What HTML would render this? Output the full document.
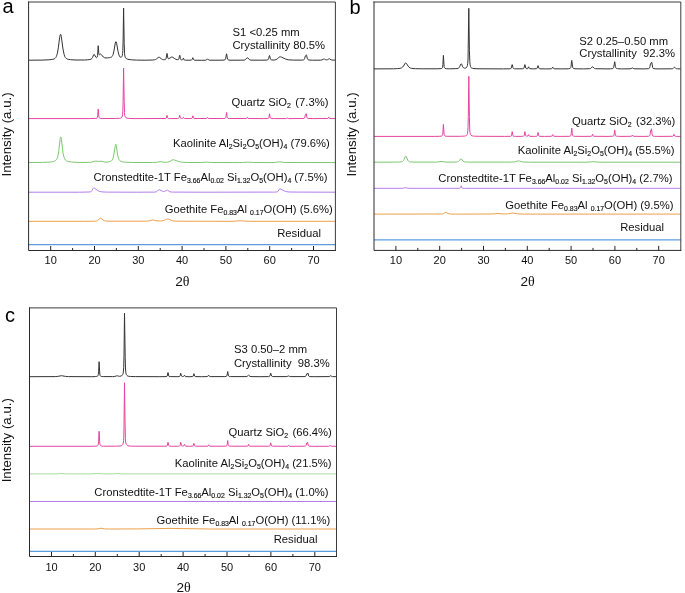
<!DOCTYPE html>
<html><head><meta charset="utf-8"><style>
html,body{margin:0;padding:0;background:#fff;}
svg{display:block;will-change:transform;}
text{font-family:"Liberation Sans",sans-serif;fill:#111;}
.lb{font-size:11.25px;}
.sb{font-size:6.9px;stroke:#111;stroke-width:0.15px;}
.tk{font-size:11px;}
.ax{font-size:13.6px;}
.th{font-family:"Liberation Serif",serif;font-size:14px;}
.yl{font-size:13.3px;}
.pl{font-size:20px;fill:#000;}
path{fill:none;stroke-width:1;stroke-linejoin:round;}
</style></head><body>
<svg width="685" height="593" viewBox="0 0 685 593">
<path d="M28.8,60.2 41.9,60.1 48.8,59.8 51.1,59.6 52.9,59.3 54.2,58.9 55.1,58.3 55.8,57.5 56.3,56.6 56.8,55.2 57.4,53.2 58.3,47.9 59.7,37.2 60.1,35.1 60.5,34.3 60.6,34.3 60.9,34.8 61.3,36.6 63.0,49.1 64.1,54.4 64.7,56.4 65.4,57.6 66.2,58.4 67.2,59.0 68.7,59.4 70.5,59.7 76.0,60.0 84.4,60.0 87.6,59.8 89.9,59.5 91.0,59.2 91.9,58.5 92.6,57.4 93.6,54.8 94.1,54.3 94.5,54.7 95.8,57.2 96.3,57.6 96.7,57.6 97.0,57.3 97.2,57.0 97.6,55.3 98.2,45.7 98.8,53.1 98.9,54.2 99.2,54.8 99.5,54.8 100.4,54.1 100.9,54.2 101.4,54.6 103.3,57.0 104.0,57.5 104.8,57.8 106.0,57.9 107.7,57.9 109.4,57.7 110.7,57.4 111.5,57.0 112.1,56.5 112.6,55.6 113.1,54.4 113.9,51.1 115.3,43.0 115.7,41.9 116.0,41.6 116.3,42.0 116.6,43.3 118.0,51.3 118.9,54.8 119.4,56.0 120.0,56.9 120.7,57.3 121.4,57.2 121.9,56.6 122.3,55.6 122.6,53.5 122.8,50.5 123.1,41.2 123.6,8.0 124.2,43.5 124.6,53.8 124.9,56.1 125.5,57.8 126.4,58.7 127.9,59.3 131.3,59.8 136.5,60.1 145.8,60.2 152.9,60.0 154.4,59.8 155.6,59.5 156.5,58.9 158.1,57.5 158.9,57.2 159.6,57.4 161.3,58.8 162.3,59.4 163.4,59.7 164.8,59.7 165.6,59.4 166.0,58.7 167.0,53.4 167.8,57.8 168.0,58.5 168.3,58.7 169.1,58.6 171.2,57.2 172.1,57.0 172.9,57.3 174.9,58.8 175.9,59.3 177.2,59.7 178.2,59.7 178.6,59.4 178.9,58.8 179.5,55.5 179.7,55.1 179.9,55.5 180.4,58.6 180.7,59.3 180.9,59.7 181.7,59.9 182.5,59.9 182.8,59.5 183.4,58.1 184.2,59.9 184.7,60.1 185.7,60.2 189.9,60.2 191.5,60.1 192.0,59.6 192.8,57.7 193.7,59.7 194.1,60.1 194.8,60.2 201.3,60.3 205.8,60.2 206.5,59.9 207.5,58.8 208.6,60.0 209.5,60.2 220.0,60.2 224.1,60.1 225.1,59.7 225.6,58.9 226.5,53.8 226.7,54.2 227.3,58.0 227.7,59.3 228.0,59.7 228.3,59.9 230.0,60.2 239.0,60.2 244.1,60.1 244.9,59.9 245.4,59.6 246.9,57.9 247.4,57.7 247.8,57.9 249.3,59.6 250.0,59.9 250.8,60.1 259.2,60.2 266.8,60.1 267.8,59.8 268.3,59.3 268.7,58.3 269.3,55.9 269.5,55.4 269.7,55.9 270.2,58.2 270.6,59.2 271.1,59.8 271.9,60.0 274.5,60.0 276.2,59.7 277.4,58.9 279.1,57.1 279.8,56.8 280.6,56.9 281.4,57.1 285.6,59.1 288.2,59.8 293.4,60.1 302.3,60.1 303.6,59.9 304.2,59.5 304.6,58.6 305.4,55.8 306.4,54.9 306.6,55.3 307.2,58.1 307.6,59.2 308.0,59.7 308.8,60.0 312.6,60.2 320.7,60.2 322.0,59.9 323.6,59.1 324.0,59.0 324.4,59.1 325.8,59.8 326.6,59.9 327.5,59.7 328.8,58.9 329.3,58.7 329.7,58.9 331.0,59.8 331.8,60.0 335.4,60.2" stroke="#333" />
<path d="M28.8,118.6 89.2,118.6 95.9,118.4 97.0,118.1 97.2,117.8 97.4,117.2 97.7,115.4 98.2,109.1 98.9,116.9 99.3,117.9 99.8,118.3 100.8,118.5 102.8,118.5 115.5,118.5 119.3,118.3 120.3,118.2 121.1,117.9 121.8,117.3 122.3,116.1 122.6,114.2 122.8,111.3 123.1,101.8 123.6,68.1 124.2,101.8 124.5,112.5 124.7,115.2 125.2,116.7 125.9,117.7 127.0,118.2 129.2,118.4 133.9,118.6 165.0,118.5 165.9,118.4 166.3,118.0 167.0,115.3 167.6,117.7 167.8,118.2 168.2,118.4 170.4,118.6 177.5,118.5 178.5,118.4 178.9,118.1 179.2,117.5 179.7,115.3 180.4,118.0 180.7,118.3 181.4,118.5 182.6,118.4 183.4,117.3 184.0,118.3 184.6,118.5 189.1,118.6 191.6,118.4 191.9,118.3 192.2,118.0 192.8,115.8 193.6,118.1 193.9,118.4 194.6,118.5 206.2,118.5 206.8,118.3 207.5,117.3 208.2,118.3 208.9,118.5 223.9,118.5 225.2,118.3 225.7,117.8 226.0,116.5 226.6,112.4 227.1,116.5 227.4,117.8 227.9,118.3 229.3,118.5 245.9,118.5 246.7,118.3 247.4,117.3 248.0,118.3 248.9,118.5 263.2,118.6 267.6,118.5 268.4,118.3 268.8,117.8 269.5,113.8 270.2,117.8 270.5,118.2 271.3,118.5 274.5,118.6 285.8,118.6 286.6,118.4 287.2,117.8 287.9,118.4 288.7,118.6 302.9,118.5 304.0,118.3 304.6,118.0 304.9,117.1 305.4,114.6 305.5,114.5 305.8,115.1 306.3,113.7 307.0,117.7 307.4,118.2 308.0,118.4 312.1,118.6 327.3,118.5 328.1,118.3 328.8,117.1 329.4,118.2 329.9,118.5 335.4,118.6" stroke="#e4449f" />
<path d="M28.8,162.5 42.4,162.4 49.2,162.1 51.6,161.9 53.3,161.6 54.6,161.1 55.6,160.5 56.4,159.7 57.0,158.8 57.5,157.4 58.0,155.4 58.8,150.7 60.2,138.7 60.5,137.4 60.8,136.9 61.0,137.3 61.4,139.6 63.1,153.3 63.8,156.5 64.5,158.5 65.4,160.0 66.7,161.0 68.7,161.6 71.4,162.0 77.9,162.4 88.1,162.4 91.7,162.1 95.0,161.2 95.8,161.1 98.6,161.4 101.2,161.2 103.9,161.9 105.5,162.1 108.3,161.9 110.4,161.4 111.4,160.9 112.1,160.2 112.6,159.2 113.1,157.9 113.9,154.1 115.3,145.5 115.5,144.4 115.7,144.2 116.0,144.6 116.3,145.7 117.8,155.8 118.4,157.9 119.0,159.5 119.8,160.6 121.0,161.4 122.7,161.9 125.0,162.2 133.9,162.5 152.7,162.5 156.1,162.3 160.3,161.7 164.0,162.2 166.4,162.3 167.8,162.1 169.0,161.8 170.1,161.3 172.0,160.0 172.9,159.8 174.5,160.0 178.3,161.4 180.6,162.0 183.4,162.3 187.8,162.5 201.3,162.5 206.2,162.1 209.4,162.4 211.9,162.5 239.9,162.6 243.6,162.5 247.8,162.1 253.7,162.5 271.1,162.6 275.4,162.4 279.8,161.8 283.8,162.4 287.0,162.5 335.4,162.6" stroke="#7cc66f" />
<path d="M28.8,192.2 79.6,192.2 89.0,192.0 90.5,191.8 91.4,191.4 92.0,190.5 93.2,188.3 93.6,187.9 94.7,188.2 97.6,190.5 99.4,191.4 101.9,191.9 106.9,192.1 136.5,192.2 154.5,192.1 155.9,191.9 156.7,191.7 157.3,191.2 158.4,189.9 158.9,189.7 159.8,189.9 162.2,191.1 163.5,191.5 164.3,191.5 165.0,191.3 166.6,190.2 167.2,190.1 167.7,190.2 169.0,191.3 169.9,191.8 171.2,192.0 173.7,192.1 202.2,192.2 273.5,192.1 276.3,192.0 277.5,191.7 278.1,191.2 279.3,189.2 279.8,188.9 281.1,189.2 283.7,190.7 285.2,191.3 286.9,191.7 289.1,192.0 300.1,192.1 335.4,192.2" stroke="#b47ceb" />
<path d="M28.8,221.3 84.4,221.3 94.9,221.2 96.6,221.0 97.7,220.6 98.4,220.0 99.8,218.3 100.2,218.1 100.9,218.3 103.2,220.1 104.6,220.8 106.7,221.1 110.9,221.2 145.9,221.2 148.8,221.0 151.9,220.2 152.8,220.0 153.6,220.1 156.9,220.9 160.2,221.0 161.8,220.9 163.1,220.6 164.4,220.2 166.6,219.2 167.6,219.0 168.6,219.2 171.2,220.4 172.9,220.8 175.0,221.1 178.9,221.2 230.8,221.3 234.9,221.2 240.4,220.7 246.0,221.2 250.7,221.3 335.4,221.3" stroke="#ec9f4a" />
<line x1="28.6" x2="335.4" y1="244.6" y2="244.6" stroke="#5b9ddf" stroke-width="1.3"/>
<path d="M28.6,2.0H335.4V250.5" stroke="#3c3c3c" stroke-width="1.15" fill="none" stroke-linejoin="miter" stroke-linecap="square"/>
<path d="M28.6,2.0V250.5H335.4" stroke="#2a2a2a" stroke-width="1.3" fill="none" stroke-linejoin="miter" stroke-linecap="square"/>
<path d="M50.7,250.5V246.0M72.6,250.5V248.0M94.5,250.5V246.0M116.4,250.5V248.0M138.3,250.5V246.0M160.2,250.5V248.0M182.1,250.5V246.0M204.0,250.5V248.0M225.9,250.5V246.0M247.8,250.5V248.0M269.7,250.5V246.0M291.6,250.5V248.0M313.5,250.5V246.0" stroke="#222" stroke-width="1.25"/>
<text class="tk" x="50.7" y="263.8" text-anchor="middle">10</text>
<text class="tk" x="94.5" y="263.8" text-anchor="middle">20</text>
<text class="tk" x="138.3" y="263.8" text-anchor="middle">30</text>
<text class="tk" x="182.1" y="263.8" text-anchor="middle">40</text>
<text class="tk" x="225.9" y="263.8" text-anchor="middle">50</text>
<text class="tk" x="269.7" y="263.8" text-anchor="middle">60</text>
<text class="tk" x="313.5" y="263.8" text-anchor="middle">70</text>
<text class="ax" x="175.2" y="285.9">2<tspan class="th">θ</tspan></text>
<text class="ax yl" transform="translate(10.8,134.4) rotate(-90)" text-anchor="middle">Intensity (a.u.)</text>
<text class="pl" x="2.5" y="13">a</text>
<text class="lb" x="232.5" y="35.5">S1 &lt;0.25 mm</text>
<text class="lb" x="232.5" y="49">Crystallinity 80.5%</text>
<text class="lb" x="231.4" y="105.6">Quartz SiO<tspan class="sb" dy="1.9">2</tspan><tspan dy="-1.9" dx="1.3"> (7.3%)</tspan></text>
<text class="lb" x="173.1" y="147.4">Kaolinite Al<tspan class="sb" dy="1.9">2</tspan><tspan dy="-1.9">Si</tspan><tspan class="sb" dy="1.9">2</tspan><tspan dy="-1.9">O</tspan><tspan class="sb" dy="1.9">5</tspan><tspan dy="-1.9">(OH)</tspan><tspan class="sb" dy="1.9">4</tspan><tspan dy="-1.9"> (79.6%)</tspan></text>
<text class="lb" x="93.4" y="180.7">Cronstedtite-1T Fe<tspan class="sb" dy="1.9">3.66</tspan><tspan dy="-1.9">Al</tspan><tspan class="sb" dy="1.9">0.02</tspan><tspan dy="-1.9"> Si</tspan><tspan class="sb" dy="1.9">1.32</tspan><tspan dy="-1.9">O</tspan><tspan class="sb" dy="1.9">5</tspan><tspan dy="-1.9">(OH)</tspan><tspan class="sb" dy="1.9">4</tspan><tspan dy="-1.9"> (7.5%)</tspan></text>
<text class="lb" x="164.7" y="213.3">Goethite Fe<tspan class="sb" dy="1.9">0.83</tspan><tspan dy="-1.9">Al </tspan><tspan class="sb" dy="1.9">0.17</tspan><tspan dy="-1.9">O(OH) (5.6%)</tspan></text>
<text class="lb" x="277.2" y="236.5">Residual</text>
<path d="M374.0,68.9 393.5,68.8 397.7,68.6 400.1,68.3 401.5,67.9 402.6,67.1 403.5,66.0 405.1,63.4 405.4,63.0 405.7,62.9 406.1,63.0 406.4,63.4 408.1,66.1 409.0,67.2 410.2,68.0 411.8,68.4 415.3,68.7 422.2,68.8 437.1,68.8 441.1,68.6 441.8,68.4 442.2,68.1 442.4,67.7 442.6,66.9 442.9,64.4 443.4,55.4 444.1,66.5 444.5,67.8 445.0,68.4 446.3,68.7 449.3,68.8 455.2,68.7 457.9,68.5 458.7,68.1 459.2,67.5 459.7,66.6 460.7,64.2 461.2,63.8 461.6,64.1 462.7,66.8 463.5,67.8 464.1,68.1 464.7,68.2 465.5,68.1 466.2,67.8 466.9,66.9 467.4,65.5 467.7,63.5 468.0,60.0 468.2,48.7 468.8,8.3 469.4,50.3 469.8,61.5 470.1,64.7 470.5,66.5 471.2,67.7 471.7,68.1 472.5,68.3 475.0,68.7 480.0,68.8 503.6,68.9 509.9,68.8 510.8,68.6 511.2,68.2 512.2,64.6 512.4,65.0 513.0,67.8 513.2,68.3 513.6,68.6 514.4,68.8 515.9,68.8 522.4,68.8 523.4,68.6 523.9,68.2 524.9,64.6 525.8,68.0 526.1,68.5 526.8,68.7 527.4,68.7 527.8,68.5 528.6,66.8 529.3,68.3 529.8,68.7 533.7,68.9 536.5,68.7 536.9,68.5 537.2,68.0 538.0,65.6 538.9,68.2 539.3,68.6 540.0,68.8 545.7,68.9 551.2,68.8 551.7,68.7 551.9,68.4 552.7,67.1 553.6,68.5 554.3,68.8 561.9,68.9 568.5,68.8 570.1,68.4 570.4,68.1 570.7,67.7 571.1,66.1 571.6,61.2 571.8,60.4 571.9,61.2 572.5,66.1 572.8,67.7 573.1,68.1 573.4,68.4 575.0,68.8 583.4,68.9 589.7,68.7 590.4,68.6 590.9,68.3 592.2,66.9 592.6,66.7 593.0,67.0 594.2,68.3 594.8,68.6 595.5,68.7 607.0,68.9 610.6,68.8 612.3,68.7 613.2,68.3 613.7,67.4 614.7,61.7 614.8,62.2 615.4,66.4 615.8,67.8 616.0,68.1 616.4,68.4 617.5,68.7 621.5,68.9 630.0,68.8 631.1,68.6 632.4,67.9 633.8,68.7 634.9,68.8 644.9,68.9 648.5,68.7 649.2,68.4 649.6,67.9 649.9,66.7 650.5,63.7 650.7,63.4 651.0,63.5 651.1,63.4 651.6,62.2 651.9,62.9 652.7,67.6 653.0,68.3 653.8,68.6 655.2,68.8 658.1,68.9 671.8,68.8 672.6,68.7 673.1,68.5 674.2,67.3 674.5,67.1 674.8,67.3 675.6,68.3 676.3,68.7 677.4,68.8 680.6,68.9" stroke="#333" />
<path d="M374.0,136.4 434.4,136.4 439.2,136.3 441.1,136.2 441.8,136.0 442.2,135.7 442.4,135.3 442.6,134.7 442.9,132.4 443.4,124.4 444.1,134.3 444.5,135.5 445.0,136.0 446.0,136.2 447.9,136.3 460.3,136.3 464.4,136.1 465.5,135.9 466.3,135.6 467.0,134.8 467.5,133.4 467.8,131.1 468.0,127.7 468.3,116.4 468.8,76.4 469.4,116.4 469.7,129.1 469.9,132.3 470.4,134.2 471.1,135.3 472.2,135.9 474.4,136.2 479.1,136.3 504.5,136.4 510.2,136.3 511.1,136.1 511.5,135.5 512.2,131.6 512.8,135.1 513.0,135.8 513.4,136.1 514.1,136.3 515.6,136.4 522.7,136.3 523.7,136.1 524.1,135.7 524.4,134.8 524.9,131.6 525.6,135.5 525.9,136.0 526.7,136.2 527.4,136.2 527.8,136.1 528.6,134.6 529.2,135.9 529.8,136.3 534.5,136.4 536.8,136.2 537.1,136.0 537.4,135.5 538.0,132.4 538.8,135.7 539.1,136.1 539.8,136.3 544.5,136.4 551.4,136.3 552.0,136.0 552.7,134.6 553.4,136.0 553.6,136.2 554.1,136.3 561.9,136.4 569.1,136.3 570.4,136.0 570.7,135.8 570.9,135.4 571.2,133.7 571.8,128.2 572.3,133.7 572.6,135.4 572.8,135.8 573.1,136.0 574.5,136.3 582.9,136.4 591.1,136.3 591.6,136.2 591.9,135.9 592.6,134.2 593.2,135.9 593.5,136.2 594.1,136.3 608.1,136.4 612.8,136.2 613.6,135.9 614.0,135.3 614.7,129.9 615.4,135.3 615.7,135.9 616.5,136.2 619.8,136.4 631.0,136.3 631.8,136.1 632.4,135.1 633.1,136.1 633.9,136.3 643.8,136.4 648.2,136.3 649.3,136.0 649.8,135.5 650.1,134.3 650.6,130.7 650.7,130.6 650.9,131.2 651.0,131.2 651.5,128.8 652.2,135.0 652.6,135.8 653.2,136.1 654.6,136.3 657.3,136.4 672.5,136.3 673.0,136.2 673.3,136.0 674.0,134.4 674.6,135.9 675.1,136.2 676.4,136.4 680.6,136.4" stroke="#e4449f" />
<path d="M374.0,162.2 395.7,162.1 399.5,162.0 401.6,161.8 402.7,161.4 403.5,160.6 404.1,159.3 405.2,156.7 405.7,156.0 406.0,156.1 406.2,156.5 407.8,160.2 408.7,161.3 409.4,161.7 410.3,161.9 414.1,162.1 435.6,162.1 437.8,162.0 441.0,161.4 444.1,161.9 445.8,162.1 452.0,162.1 456.3,162.0 457.6,161.8 458.5,161.4 459.2,160.7 460.4,159.1 460.9,158.7 461.4,159.0 463.0,161.1 463.9,161.7 465.4,162.0 468.8,162.1 511.4,162.1 514.5,161.9 517.7,161.0 518.5,160.9 519.4,161.0 521.7,161.7 523.1,162.0 528.5,162.2 585.4,162.2 588.9,162.1 593.0,161.7 597.2,162.1 601.1,162.2 680.6,162.2" stroke="#7cc66f" />
<path d="M374.0,188.3 401.9,188.3 403.4,188.1 405.5,187.6 407.7,188.2 409.9,188.3 458.9,188.3 460.0,188.2 460.4,188.0 460.7,187.6 461.2,185.8 461.7,187.6 462.0,188.0 462.6,188.2 464.3,188.3 680.6,188.3" stroke="#b47ceb" />
<path d="M374.0,214.1 440.7,214.0 442.2,214.0 443.2,213.8 443.8,213.4 445.0,212.5 445.4,212.4 446.1,212.5 448.0,213.5 449.1,213.8 450.8,214.0 454.7,214.1 491.0,214.0 494.0,213.9 498.0,213.5 502.1,213.9 505.4,214.0 508.3,213.8 511.8,213.1 512.8,213.0 518.1,213.9 524.1,214.1 680.6,214.1" stroke="#ec9f4a" />
<line x1="374.0" x2="680.8" y1="239.9" y2="239.9" stroke="#5b9ddf" stroke-width="1.3"/>
<path d="M374.0,2.0H680.8V250.4" stroke="#3c3c3c" stroke-width="1.15" fill="none" stroke-linejoin="miter" stroke-linecap="square"/>
<path d="M374.0,2.0V250.4H680.8" stroke="#2a2a2a" stroke-width="1.3" fill="none" stroke-linejoin="miter" stroke-linecap="square"/>
<path d="M395.9,250.4V245.9M417.8,250.4V247.9M439.7,250.4V245.9M461.6,250.4V247.9M483.5,250.4V245.9M505.4,250.4V247.9M527.3,250.4V245.9M549.2,250.4V247.9M571.1,250.4V245.9M593.0,250.4V247.9M614.9,250.4V245.9M636.8,250.4V247.9M658.7,250.4V245.9" stroke="#222" stroke-width="1.25"/>
<text class="tk" x="395.9" y="263.6" text-anchor="middle">10</text>
<text class="tk" x="439.7" y="263.6" text-anchor="middle">20</text>
<text class="tk" x="483.5" y="263.6" text-anchor="middle">30</text>
<text class="tk" x="527.3" y="263.6" text-anchor="middle">40</text>
<text class="tk" x="571.1" y="263.6" text-anchor="middle">50</text>
<text class="tk" x="614.9" y="263.6" text-anchor="middle">60</text>
<text class="tk" x="658.7" y="263.6" text-anchor="middle">70</text>
<text class="ax" x="520.4" y="286">2<tspan class="th">θ</tspan></text>
<text class="ax yl" transform="translate(355.6,134.4) rotate(-90)" text-anchor="middle">Intensity (a.u.)</text>
<text class="pl" x="349.5" y="14.3">b</text>
<text class="lb" x="579.3" y="44.8">S2 0.25–0.50 mm</text>
<text class="lb" x="579.3" y="57.4">Crystallinity&#160; 92.3%</text>
<text class="lb" x="572" y="125">Quartz SiO<tspan class="sb" dy="1.9">2</tspan><tspan dy="-1.9" dx="1.3"> (32.3%)</tspan></text>
<text class="lb" x="517.8" y="154.4">Kaolinite Al<tspan class="sb" dy="1.9">2</tspan><tspan dy="-1.9">Si</tspan><tspan class="sb" dy="1.9">2</tspan><tspan dy="-1.9">O</tspan><tspan class="sb" dy="1.9">5</tspan><tspan dy="-1.9">(OH)</tspan><tspan class="sb" dy="1.9">4</tspan><tspan dy="-1.9"> (55.5%)</tspan></text>
<text class="lb" x="438.3" y="182.2">Cronstedtite-1T Fe<tspan class="sb" dy="1.9">3.66</tspan><tspan dy="-1.9">Al</tspan><tspan class="sb" dy="1.9">0.02</tspan><tspan dy="-1.9"> Si</tspan><tspan class="sb" dy="1.9">1.32</tspan><tspan dy="-1.9">O</tspan><tspan class="sb" dy="1.9">5</tspan><tspan dy="-1.9">(OH)</tspan><tspan class="sb" dy="1.9">4</tspan><tspan dy="-1.9"> (2.7%)</tspan></text>
<text class="lb" x="505.3" y="209">Goethite Fe<tspan class="sb" dy="1.9">0.83</tspan><tspan dy="-1.9">Al </tspan><tspan class="sb" dy="1.9">0.17</tspan><tspan dy="-1.9">O(OH) (9.5%)</tspan></text>
<text class="lb" x="620.2" y="230.7">Residual</text>
<path d="M29.5,376.7 55.2,376.6 57.7,376.4 61.5,375.7 65.5,376.4 68.5,376.6 91.8,376.7 95.2,376.6 96.8,376.4 97.4,376.2 97.8,375.9 98.1,375.4 98.3,374.5 98.6,371.7 99.1,361.7 99.8,374.0 100.1,375.5 100.7,376.2 101.5,376.5 103.2,376.6 112.5,376.6 114.7,376.5 116.7,375.8 117.3,375.8 118.7,376.2 119.5,376.3 120.8,376.1 121.8,375.7 122.6,374.7 123.2,373.2 123.4,371.1 123.7,367.5 124.0,355.6 124.5,313.2 125.2,357.3 125.5,369.0 125.8,372.4 126.2,374.3 127.0,375.5 127.5,375.9 128.2,376.2 130.5,376.5 135.3,376.6 159.9,376.7 166.0,376.6 166.8,376.4 167.2,376.0 168.0,372.5 168.8,376.0 169.2,376.5 170.2,376.6 177.1,376.7 179.5,376.5 179.9,376.2 180.1,375.8 180.7,373.2 181.5,376.1 181.9,376.4 182.5,376.6 183.3,376.5 183.7,376.4 184.5,375.2 185.1,376.3 185.6,376.6 189.9,376.7 192.6,376.5 193.0,376.4 193.2,376.1 193.9,373.7 194.7,376.2 195.0,376.5 195.7,376.6 201.6,376.7 207.1,376.6 207.8,376.3 208.6,375.2 209.5,376.4 210.2,376.6 224.8,376.6 226.2,376.4 226.6,376.2 226.8,375.9 227.1,375.0 227.7,371.5 228.3,375.0 228.6,375.9 228.8,376.2 229.2,376.4 230.6,376.6 246.1,376.6 247.2,376.3 248.3,375.3 248.6,375.2 248.9,375.4 250.0,376.4 251.0,376.6 260.9,376.7 268.5,376.6 269.3,376.5 269.8,376.1 270.7,373.2 271.6,376.0 272.0,376.4 272.7,376.6 286.1,376.6 287.1,376.5 288.5,375.9 289.8,376.5 290.8,376.6 304.0,376.6 305.1,376.5 305.7,376.3 306.1,375.6 306.7,373.9 306.8,373.8 307.3,374.0 307.8,373.1 308.0,373.3 308.7,376.0 309.1,376.4 309.8,376.6 314.1,376.7 328.0,376.6 329.3,376.5 330.7,375.7 331.8,376.4 332.5,376.6 336.8,376.7" stroke="#333" />
<path d="M29.5,446.3 90.1,446.3 94.8,446.2 96.8,446.0 97.4,445.8 97.8,445.5 98.1,445.0 98.3,444.1 98.6,441.3 99.1,431.3 99.8,443.6 100.1,445.1 100.7,445.8 101.6,446.1 103.5,446.2 115.5,446.2 120.0,446.0 121.2,445.8 122.0,445.4 122.7,444.6 123.2,443.1 123.6,440.7 123.8,437.1 124.0,425.2 124.5,382.8 125.1,425.2 125.4,438.6 125.7,442.0 126.1,443.9 126.4,444.6 126.8,445.1 127.2,445.5 127.9,445.8 130.1,446.1 134.9,446.2 166.0,446.2 166.9,446.0 167.3,445.6 168.0,442.3 168.6,445.2 168.9,445.8 169.2,446.0 171.4,446.3 178.5,446.2 179.5,446.1 179.9,445.7 180.2,445.0 180.7,442.3 181.5,445.6 181.8,446.0 182.4,446.1 183.3,446.1 183.7,445.9 184.5,444.3 185.1,445.8 185.6,446.1 189.5,446.3 192.7,446.1 193.0,446.0 193.2,445.6 193.9,443.3 194.6,445.8 195.0,446.1 195.7,446.2 207.3,446.2 208.0,446.0 208.6,444.8 209.3,446.0 210.0,446.2 225.0,446.2 226.3,446.0 226.9,445.6 227.2,444.4 227.7,440.5 228.2,444.4 228.6,445.6 229.1,446.0 230.4,446.2 247.1,446.2 247.6,446.1 247.9,445.9 248.6,444.3 249.2,445.9 249.5,446.1 250.1,446.2 268.8,446.2 269.6,446.1 270.0,445.7 270.7,442.8 271.5,445.7 271.8,446.0 272.5,446.2 287.1,446.3 287.9,446.1 288.5,445.3 289.2,446.1 289.9,446.3 304.2,446.2 305.3,446.1 305.9,445.8 306.2,445.1 306.7,443.0 306.8,442.9 307.1,443.5 307.6,442.4 308.3,445.6 308.7,446.0 309.4,446.2 313.4,446.3 328.6,446.3 329.5,446.1 330.2,445.3 330.8,446.0 331.3,446.2 336.8,446.3" stroke="#e4449f" />
<path d="M29.5,473.9 56.0,473.9 58.2,473.8 61.5,473.4 64.9,473.8 67.7,473.9 91.2,473.9 97.5,473.5 102.7,473.8 111.0,473.9 113.9,473.8 116.9,473.4 120.2,473.8 125.6,473.9 336.8,473.9" stroke="#a6da9c" />
<path d="M29.5,501.5 336.8,501.5" stroke="#b47ceb" />
<path d="M29.5,529.0 95.3,529.0 98.2,528.8 101.1,528.2 104.4,528.9 109.8,529.0 138.4,528.9 170.0,528.4 209.9,529.0 336.8,529.0" stroke="#ec9f4a" />
<line x1="29.5" x2="336.5" y1="551.4" y2="551.4" stroke="#5b9ddf" stroke-width="1.3"/>
<path d="M29.5,307.9H336.5V556.5" stroke="#3c3c3c" stroke-width="1.15" fill="none" stroke-linejoin="miter" stroke-linecap="square"/>
<path d="M29.5,307.9V556.5H336.5" stroke="#2a2a2a" stroke-width="1.3" fill="none" stroke-linejoin="miter" stroke-linecap="square"/>
<path d="M51.5,556.5V552.0M73.4,556.5V554.0M95.3,556.5V552.0M117.3,556.5V554.0M139.2,556.5V552.0M161.2,556.5V554.0M183.1,556.5V552.0M205.1,556.5V554.0M227.0,556.5V552.0M249.0,556.5V554.0M270.9,556.5V552.0M292.9,556.5V554.0M314.8,556.5V552.0" stroke="#222" stroke-width="1.25"/>
<text class="tk" x="51.5" y="570.6" text-anchor="middle">10</text>
<text class="tk" x="95.3" y="570.6" text-anchor="middle">20</text>
<text class="tk" x="139.2" y="570.6" text-anchor="middle">30</text>
<text class="tk" x="183.1" y="570.6" text-anchor="middle">40</text>
<text class="tk" x="227.0" y="570.6" text-anchor="middle">50</text>
<text class="tk" x="270.9" y="570.6" text-anchor="middle">60</text>
<text class="tk" x="314.8" y="570.6" text-anchor="middle">70</text>
<text class="ax" x="176.4" y="591.7">2<tspan class="th">θ</tspan></text>
<text class="ax yl" transform="translate(11.0,440.2) rotate(-90)" text-anchor="middle">Intensity (a.u.)</text>
<text class="pl" x="5.0" y="322.1">c</text>
<text class="lb" x="234.0" y="352.7">S3 0.50–2 mm</text>
<text class="lb" x="234.0" y="366.7">Crystallinity&#160; 98.3%</text>
<text class="lb" x="228.5" y="436.1">Quartz SiO<tspan class="sb" dy="1.9">2</tspan><tspan dy="-1.9" dx="1.3"> (66.4%)</tspan></text>
<text class="lb" x="174.8" y="466.8">Kaolinite Al<tspan class="sb" dy="1.9">2</tspan><tspan dy="-1.9">Si</tspan><tspan class="sb" dy="1.9">2</tspan><tspan dy="-1.9">O</tspan><tspan class="sb" dy="1.9">5</tspan><tspan dy="-1.9">(OH)</tspan><tspan class="sb" dy="1.9">4</tspan><tspan dy="-1.9"> (21.5%)</tspan></text>
<text class="lb" x="94.3" y="496">Cronstedtite-1T Fe<tspan class="sb" dy="1.9">3.66</tspan><tspan dy="-1.9">Al</tspan><tspan class="sb" dy="1.9">0.02</tspan><tspan dy="-1.9"> Si</tspan><tspan class="sb" dy="1.9">1.32</tspan><tspan dy="-1.9">O</tspan><tspan class="sb" dy="1.9">5</tspan><tspan dy="-1.9">(OH)</tspan><tspan class="sb" dy="1.9">4</tspan><tspan dy="-1.9"> (1.0%)</tspan></text>
<text class="lb" x="156.6" y="524.4">Goethite Fe<tspan class="sb" dy="1.9">0.83</tspan><tspan dy="-1.9">Al </tspan><tspan class="sb" dy="1.9">0.17</tspan><tspan dy="-1.9">O(OH) (11.1%)</tspan></text>
<text class="lb" x="273.7" y="542.9">Residual</text>
</svg>
</body></html>
